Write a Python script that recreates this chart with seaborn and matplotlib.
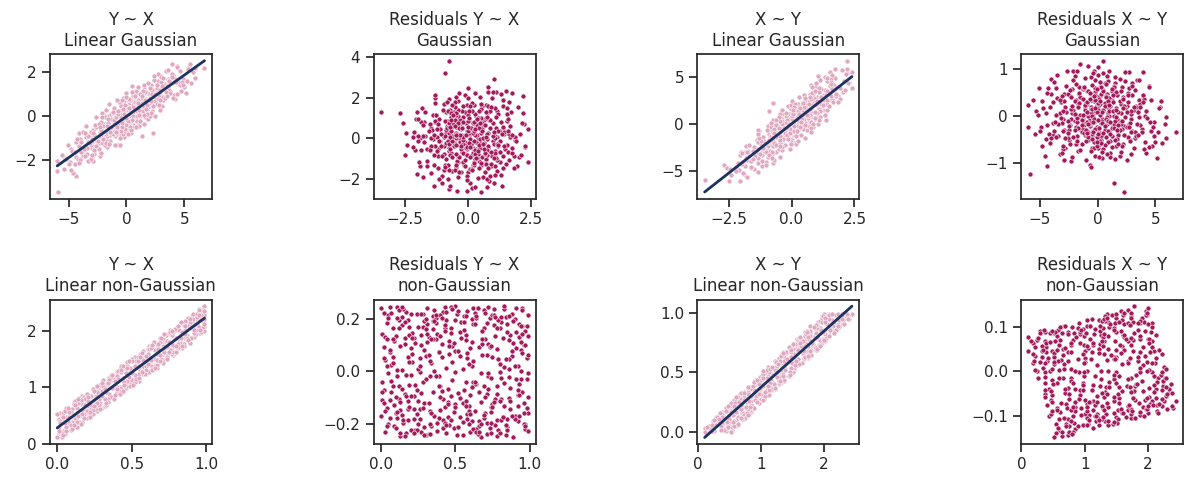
import numpy as np
import matplotlib
matplotlib.use("Agg")
import matplotlib.pyplot as plt
import seaborn as sns

# ---------------- data: linear Gaussian (X, Y) ----------------
gauss_x = [
    1.2, -0.8, 3.1, -2.4, 0.3, -4.1, 2.2, 0.9, -1.5, 4.4,
    -0.2, 1.8, -3.0, 0.6, -1.1, 2.7, -0.5, 3.6, -2.0, 0.0,
    0.4, -1.9, 1.5, -0.1, 2.9, -3.4, 0.8, -0.6, 1.1, -2.7,
    2.0, -0.3, -1.4, 0.2, 3.8, -2.2, 1.0, -4.8, 0.7, -0.9,
    -1.2, 0.5, 2.4, -2.9, 1.6, -0.4, 0.1, -3.7, 2.6, -1.6,
    0.0, 1.3, -0.7, 3.3, -2.5, 0.6, -1.0, 1.9, -0.2, 4.9,
    -1.8, 0.3, 2.1, -0.5, -3.2, 1.4, 0.8, -2.1, 3.0, -0.1,
    1.7, -0.6, -1.3, 0.9, 2.5, -4.4, 0.2, -0.8, 1.1, -2.6,
    -0.4, 3.5, -1.7, 0.5, -0.2, 2.3, -2.3, 1.2, -5.3, 0.7,
    -1.0, 0.1, 2.8, -0.3, 1.5, -3.5, 0.4, -1.4, 4.1, -0.7,
    0.9, -2.0, 1.8, -0.9, 0.0, 2.2, -1.5, 3.2, -0.4, -2.8,
    0.6, -1.1, 1.3, -3.9, 2.7, -0.1, 0.3, -1.9, 1.0, 5.4,
    -0.6, 2.0, -2.4, 0.8, -0.2, 1.6, -3.0, 0.2, 3.9, -1.2,
    1.4, -0.5, 0.5, -1.6, 2.9, -0.8, 0.0, -4.5, 1.9, -0.3,
    -2.2, 0.7, -0.9, 3.4, 0.1, -1.3, 2.4, -0.6, 1.1, -3.3,
    0.4, -1.7, 1.7, -0.1, -2.6, 0.9, 4.6, -0.4, 0.6, -1.0,
    2.6, -0.2, -3.6, 1.2, 0.3, -2.0, 1.5, -0.7, 3.0, 0.0,
    -1.4, 0.8, -0.5, 2.1, -1.1, 0.2, -2.9, 1.3, -0.9, 3.7,
    0.5, -0.3, 1.8, -2.3, 0.1, -0.8, 2.5, -1.8, 0.7, -3.8,
    1.0, -0.6, 0.3, 4.2, -1.5, 0.9, -0.1, -2.5, 2.2, -0.4,
    -1.2, 1.6, 0.0, -0.7, 3.3, -4.0, 0.6, -0.2, 1.4, -1.9,
    2.8, -0.9, 0.4, -2.1, 1.1, -0.3, 5.8, -1.3, 0.2, 2.0,
    -0.5, 0.8, -3.1, 1.9, -0.1, -1.6, 0.5, 3.6, -0.8, 1.2,
    -5.9, 6.75, 2.3, 1.37, 5.15, -6.0, -6.0, 5.6, 5.9, 3.9, -4.36, -4.07, -2.67, 3.1,
    3.4, -4.2, 1.1, -2.6, 5.0, -0.3, 2.3, -3.3, 0.7, -1.8,
    0.2, 4.0, -5.1, 1.9, -0.9, 2.9, -2.0, -3.9, 4.7, -1.3,
    -2.8, 1.5, 3.7, -0.6, -4.6, 2.6, 0.0, -1.6, 5.3, -3.1,
    1.0, -2.3, 4.4, -0.2, 2.1, -5.6, 0.5, 3.0, -1.1, -3.6,
    -0.4, 2.8, -3.0, 0.9, -1.9, 4.2, -4.9, 1.6, -0.7, 3.5,
    -2.5, 0.3, 2.0, -1.4, 5.9, -3.8, 1.3, -0.1, 3.2, -2.1,
    0.6, -4.4, 2.4, -0.8, 3.9, -1.7, -2.9, 1.8, 4.8, -0.5,
    -3.4, 1.2, -0.2, 2.7, -5.2, 0.4, -1.2, 3.3, -2.4, 0.8,
    4.5, -0.9, -2.2, 1.4, -4.0, 2.2, 0.1, -1.5, 3.6, -3.2,
    0.0, 2.5, -1.0, -4.7, 1.7, -0.3, 5.5, -2.7, 0.9, -1.9,
    3.1, -3.5, 0.5, -0.6, 2.0, -2.6, 4.1, -1.3, 1.1, -5.0,
    -0.1, 1.6, -1.8, 3.8, -3.0, 0.7, -0.4, 2.9, -4.3, 1.9,
    -2.0, 4.6, 0.3, -1.1, 2.3, -3.7, 1.0, -0.7, 3.4, -2.4,
    0.8, -0.2, 2.6, -4.1, 1.4, -1.6, 5.2, -2.9, 0.2, -0.8,
    3.0, -1.4, -3.3, 0.6, 2.1, -0.5, 4.3, -2.2, 1.5, 0.0,
    -3.9, 1.2, -0.9, 2.7, -1.8, 0.4, -2.8, 3.7, -0.3, 1.8,
    -5.4, 0.1, 2.2, -1.2, 4.0, -2.5, 0.9, -0.6, 3.2, -4.5,
    1.3, -0.1, -2.1, 2.5, -3.6, 0.5, 1.7, -1.5, 4.9, -0.7,
    -1.0, 3.5, -4.8, 0.2, 2.4, -2.3, 1.1, -0.4, 3.9, -3.1,
    0.7, -1.7, 2.9, -0.8, 1.5, -3.0, 0.0, 4.4, -2.0, 1.0,
]
gauss_y = [
    0.79, -0.81, 1.29, -0.47, -0.04, -1.35, 0.24, 0.41, -0.85, 2.29,
    0.06, 0.33, -1.19, 0.92, -0.22, 0.85, -0.62, 1.68, -0.73, -0.69,
    0.08, -0.37, 1.08, -0.28, 1.02, -1.70, 0.48, 0.61, -0.11, -0.93,
    1.01, -0.24, -1.13, 0.50, 1.15, -0.76, 0.38, -1.48, -0.18, -0.08,
    -0.64, 0.74, 0.88, -1.38, 0.77, -0.12, -0.31, -1.52, 1.47, 0.02,
    0.41, 0.28, -0.33, 1.45, -1.45, -0.08, -0.09, 0.60, 0.68, 1.71,
    -1.10, 0.22, 1.40, -0.87, -0.91, 0.52, 0.15, -0.67, 0.80, 0.19,
    0.57, 0.25, -0.76, -0.22, 1.16, -1.84, 0.69, -0.30, 0.78, -1.44,
    -0.47, 1.41, -0.38, 0.32, -0.93, 0.65, -0.94, 0.98, -1.89, 0.52,
    -0.31, -0.43, 0.90, 0.20, 1.26, -0.94, 0.05, -0.87, 1.54, -0.48,
    0.53, -0.85, 0.28, 0.19, -0.28, 1.22, -0.55, 0.73, -0.05, -0.87,
    -0.39, -0.28, 0.79, -1.88, 1.61, -0.13, 0.58, -0.94, 0.05, 2.22,
    0.11, 0.81, -1.09, 0.28, 0.52, -0.04, -1.45, 0.33, 1.89, -0.59,
    0.35, -0.58, 0.32, -0.14, 1.12, -0.21, 0.21, -2.19, 1.04, -0.67,
    -0.26, 0.67, -0.46, 0.87, -0.21, -0.55, 1.08, -0.17, -0.37, -1.17,
    0.01, -0.89, 1.09, 0.14, -1.08, 1.07, 1.41, -0.17, 0.45, -0.91,
    1.28, 0.43, -1.34, 0.19, -0.31, -0.44, 0.45, -0.44, 1.57, 0.12,
    -0.60, 0.13, 0.46, 0.51, -0.82, 0.09, -0.63, 1.07, -0.26, 1.65,
    0.71, -0.80, 0.75, -0.72, 0.40, -0.65, 0.71, -0.80, 0.20, -1.75,
    0.49, -0.04, -0.39, 1.69, -0.17, 0.23, -0.49, -1.15, 1.18, 0.29,
    -0.82, 0.58, 0.27, -0.41, 1.42, -1.03, 0.01, 0.27, 1.17, -1.30,
    0.55, -0.05, 0.24, -1.23, 0.63, -0.20, 2.01, -0.13, -0.53, 0.58,
    -0.20, 0.77, -1.32, 0.42, 0.04, -0.33, -0.17, 1.32, 0.23, 0.02,
    -3.45, 2.2, -0.75, -0.9, 1.05, -2.03, -2.48, 1.53, 2.2, 2.4, -2.7, -0.75, -0.05, 0.48,
    2.05, -1.96, -0.46, -0.51, 1.33, 0.85, 1.08, -2.04, 0.69, -0.73,
    -0.46, 1.86, -1.33, -0.13, -0.73, 1.19, 0.09, -1.61, 1.13, 0.09,
    -1.73, 1.40, 1.19, -0.07, -2.58, 0.54, 1.04, -0.33, 2.16, -0.74,
    0.75, -1.82, 2.26, -0.36, 0.68, -1.77, -0.51, 1.83, -0.19, -1.79,
    0.76, 0.52, -1.02, 0.01, -0.04, 0.79, -2.08, 1.10, -1.30, 1.39,
    -1.23, 0.73, -0.01, -0.62, 1.74, -0.71, 0.60, -0.67, 0.87, 0.16,
    0.50, -1.16, 1.64, -0.75, 1.92, -1.38, -0.77, 0.49, 1.57, -0.05,
    -1.45, -0.20, 0.36, 1.94, -1.94, -0.75, 0.15, 0.81, -1.49, 1.15,
    1.57, -0.05, -1.69, 1.13, -1.98, 1.19, -0.21, 0.54, 2.11, -1.24,
    -0.38, 0.00, -0.67, -1.60, 0.15, -0.18, 2.39, -0.38, 0.24, -1.32,
    1.36, -0.44, 1.36, -0.97, 1.27, -1.34, 0.98, -0.47, 0.04, -2.19,
    0.53, 0.73, -1.20, 1.08, -1.84, 0.67, -0.29, 0.29, -1.02, 1.50,
    -0.71, 2.07, -0.47, 0.39, 0.45, -1.51, 1.32, 0.10, 1.11, -0.36,
    -0.50, 0.09, 1.42, -2.12, 0.26, -0.12, 1.62, -2.02, 0.79, -0.47,
    1.77, -0.72, -0.91, 0.43, 0.15, -0.68, 1.58, -0.61, -0.36, 0.87,
    -1.17, 1.03, -0.71, 0.78, 0.27, -0.61, -1.53, 1.59, 0.32, 0.09,
    -2.42, -0.83, 0.99, 0.17, 0.81, -1.15, 0.66, -1.32, 1.75, -1.62,
    0.94, -0.60, -0.02, 1.03, -0.77, 1.09, 0.35, -1.28, 1.41, 0.23,
    -1.32, 0.92, -2.44, 0.39, 1.84, -0.47, 0.29, -0.49, 1.77, -1.96,
    0.94, -0.46, 0.74, 0.76, 0.05, -1.76, -0.08, 0.99, -1.06, 0.60,
]

# ---------------- data: linear non-Gaussian (X, Y) ----------------
nongauss_x = [
    0.37, 0.82, 0.05, 0.64, 0.91, 0.23, 0.48, 0.76, 0.12, 0.55,
    0.02, 0.69, 0.33, 0.97, 0.18, 0.44, 0.59, 0.86, 0.27, 0.71,
    0.08, 0.52, 0.95, 0.39, 0.14, 0.78, 0.61, 0.29, 0.87, 0.46,
    0.66, 0.21, 0.03, 0.93, 0.42, 0.74, 0.16, 0.57, 0.31, 0.89,
    0.50, 0.10, 0.80, 0.35, 0.68, 0.99, 0.25, 0.62, 0.07, 0.45,
    0.94, 0.19, 0.73, 0.41, 0.58, 0.01, 0.84, 0.30, 0.66, 0.13,
    0.54, 0.88, 0.26, 0.04, 0.77, 0.36, 0.92, 0.49, 0.17, 0.63,
    0.09, 0.70, 0.43, 0.98, 0.22, 0.60, 0.81, 0.34, 0.11, 0.75,
    0.28, 0.96, 0.51, 0.15, 0.83, 0.40, 0.06, 0.67, 0.32, 0.90,
    0.72, 0.24, 0.56, 0.00, 0.85, 0.47, 0.20, 0.79, 0.38, 0.65,
    0.13, 0.53, 0.95, 0.31, 0.69, 0.08, 0.44, 0.87, 0.26, 0.61,
    0.99, 0.35, 0.18, 0.76, 0.58, 0.03, 0.92, 0.46, 0.71, 0.22,
    0.42, 0.81, 0.11, 0.64, 0.29, 0.97, 0.50, 0.16, 0.74, 0.37,
    0.86, 0.05, 0.57, 0.27, 0.93, 0.40, 0.68, 0.14, 0.83, 0.52,
    0.21, 0.78, 0.33, 0.62, 0.09, 0.89, 0.47, 0.02, 0.70, 0.30,
    0.55, 0.94, 0.19, 0.43, 0.80, 0.12, 0.66, 0.36, 0.98, 0.25,
    0.73, 0.07, 0.48, 0.85, 0.32, 0.59, 0.15, 0.91, 0.40, 0.77,
    0.04, 0.63, 0.28, 0.88, 0.45, 0.10, 0.72, 0.54, 0.20, 0.96,
    0.34, 0.82, 0.17, 0.60, 0.93, 0.39, 0.01, 0.75, 0.50, 0.24,
    0.67, 0.14, 0.86, 0.43, 0.57, 0.99, 0.30, 0.08, 0.79, 0.46,
    0.23, 0.90, 0.62, 0.06, 0.35, 0.71, 0.18, 0.84, 0.52, 0.97,
    0.44, 0.11, 0.77, 0.28, 0.65, 0.02, 0.58, 0.92, 0.38, 0.81,
    0.16, 0.69, 0.49, 0.95, 0.26, 0.83, 0.41, 0.13, 0.74, 0.56,
    0.87, 0.33, 0.04, 0.61, 0.20, 0.78, 0.47, 0.99, 0.10, 0.68,
    0.37, 0.94, 0.53, 0.19, 0.72, 0.29, 0.85, 0.07, 0.63, 0.42,
    0.58, 0.12, 0.89, 0.34, 0.71, 0.03, 0.47, 0.95, 0.26, 0.64,
    0.19, 0.80, 0.41, 0.06, 0.93, 0.55, 0.31, 0.76, 0.15, 0.99,
    0.67, 0.22, 0.50, 0.86, 0.09, 0.38, 0.73, 0.14, 0.61, 0.44,
    0.96, 0.29, 0.01, 0.53, 0.84, 0.20, 0.68, 0.40, 0.91, 0.11,
    0.45, 0.78, 0.24, 0.62, 0.05, 0.87, 0.35, 0.70, 0.17, 0.56,
    0.32, 0.98, 0.08, 0.74, 0.49, 0.27, 0.83, 0.13, 0.59, 0.92,
    0.21, 0.65, 0.39, 0.03, 0.80, 0.52, 0.16, 0.94, 0.43, 0.71,
    0.88, 0.06, 0.57, 0.30, 0.75, 0.12, 0.97, 0.36, 0.66, 0.24,
    0.51, 0.85, 0.18, 0.62, 0.41, 0.00, 0.79, 0.27, 0.93, 0.48,
    0.15, 0.69, 0.35, 0.90, 0.08, 0.58, 0.22, 0.76, 0.45, 0.99,
    0.63, 0.28, 0.86, 0.04, 0.53, 0.74, 0.11, 0.39, 0.95, 0.20,
    0.46, 0.81, 0.33, 0.68, 0.02, 0.90, 0.57, 0.25, 0.72, 0.14,
    0.97, 0.37, 0.60, 0.09, 0.83, 0.43, 0.19, 0.64, 0.31, 0.88,
    0.26, 0.54, 0.78, 0.06, 0.42, 0.94, 0.17, 0.70, 0.50, 0.33,
    0.85, 0.12, 0.61, 0.39, 0.98, 0.23, 0.74, 0.05, 0.55, 0.81,
    0.30, 0.67, 0.16, 0.91, 0.47, 0.02, 0.82, 0.36, 0.64, 0.10,
    0.52, 0.96, 0.27, 0.72, 0.40, 0.86, 0.07, 0.59, 0.21, 0.78,
    0.44, 0.13, 0.89, 0.34, 0.63, 0.99, 0.18, 0.56, 0.80, 0.29,
    0.69, 0.04, 0.48, 0.92, 0.25, 0.75, 0.37, 0.11, 0.60, 0.84,
    0.14, 0.57, 0.32, 0.77, 0.01, 0.43, 0.95, 0.22, 0.66, 0.50,
]
nongauss_y = [
    1.13, 1.72, 0.59, 1.49, 2.16, 0.51, 1.26, 1.95, 0.41, 1.12,
    0.25, 1.87, 0.78, 1.99, 0.69, 1.34, 1.31, 1.98, 0.95, 1.59,
    0.60, 1.09, 2.39, 1.03, 0.39, 1.90, 1.68, 0.73, 1.93, 1.30,
    1.39, 0.73, 0.11, 2.24, 1.33, 1.60, 0.70, 1.36, 1.07, 1.78,
    1.34, 0.38, 1.85, 1.18, 1.77, 2.07, 0.57, 1.74, 0.44, 0.99,
    2.10, 0.82, 1.50, 1.01, 1.47, 0.44, 2.14, 0.63, 1.67, 0.42,
    1.53, 2.07, 0.79, 0.22, 1.69, 1.22, 1.90, 1.09, 0.84, 1.47,
    0.25, 1.78, 1.29, 2.26, 0.62, 1.23, 2.06, 0.98, 0.74, 1.63,
    0.79, 2.05, 1.50, 0.39, 1.93, 0.92, 0.47, 1.35, 1.04, 2.25,
    1.80, 0.97, 1.31, 0.11, 1.74, 1.37, 0.66, 1.88, 0.83, 1.80,
    0.63, 1.22, 2.32, 1.00, 1.46, 0.38, 0.91, 2.13, 0.65, 1.50,
    2.44, 0.89, 0.83, 2.01, 1.26, 0.38, 2.00, 0.98, 1.74, 0.84,
    1.00, 1.85, 0.32, 1.74, 0.93, 1.97, 1.14, 0.72, 1.58, 1.19,
    2.02, 0.18, 1.54, 0.58, 2.06, 1.28, 1.72, 0.56, 1.78, 1.53,
    0.84, 1.57, 0.91, 1.68, 0.33, 2.14, 1.02, 0.54, 1.56, 0.93,
    1.24, 2.21, 0.60, 1.37, 2.02, 0.71, 1.37, 0.82, 2.18, 0.78,
    1.92, 0.34, 1.32, 1.77, 0.67, 1.47, 0.81, 2.22, 1.01, 1.59,
    0.38, 1.37, 1.00, 2.23, 1.05, 0.61, 1.68, 1.53, 0.45, 2.27,
    0.79, 2.02, 0.38, 1.37, 2.29, 1.12, 0.19, 1.97, 1.51, 0.68,
    1.40, 0.76, 1.87, 0.99, 1.52, 2.22, 1.03, 0.49, 1.61, 1.28,
    0.84, 1.88, 1.46, 0.64, 1.16, 1.48, 0.49, 1.98, 1.22, 2.34,
    1.16, 0.48, 1.93, 1.05, 1.32, 0.20, 1.24, 2.11, 1.17, 1.77,
    0.51, 1.80, 1.03, 2.22, 0.61, 2.15, 1.19, 0.29, 1.71, 1.59,
    1.85, 0.97, 0.54, 1.42, 0.76, 1.63, 1.45, 2.00, 0.32, 1.74,
    1.21, 2.13, 1.38, 0.52, 1.63, 0.64, 2.13, 0.38, 1.74, 0.92,
    1.65, 0.46, 2.14, 0.74, 1.86, 0.19, 1.11, 2.07, 0.84, 1.32,
    0.79, 1.62, 1.29, 0.48, 1.94, 1.37, 1.13, 1.66, 0.38, 2.29,
    1.59, 0.53, 1.13, 2.18, 0.57, 0.80, 1.81, 0.73, 1.29, 1.37,
    1.97, 1.04, 0.26, 1.47, 1.69, 0.58, 1.68, 1.20, 2.31, 0.50,
    1.10, 1.98, 0.53, 1.54, 0.58, 1.88, 1.09, 1.50, 0.60, 1.57,
    0.79, 2.38, 0.47, 1.54, 1.35, 1.03, 1.87, 0.30, 1.29, 1.96,
    0.76, 1.80, 0.87, 0.47, 1.88, 1.09, 0.78, 2.24, 1.28, 1.44,
    2.09, 0.29, 1.61, 0.84, 1.62, 0.75, 1.98, 1.18, 1.50, 0.59,
    1.04, 2.10, 0.52, 1.28, 1.14, 0.52, 2.03, 0.91, 2.02, 1.19,
    0.39, 1.58, 1.13, 1.87, 0.56, 1.49, 0.48, 1.99, 1.04, 2.36,
    1.70, 0.69, 1.95, 0.15, 1.15, 1.83, 0.70, 0.99, 2.38, 0.89,
    1.25, 1.69, 0.69, 1.77, 0.41, 2.07, 1.29, 0.94, 1.69, 0.49,
    2.29, 1.22, 1.30, 0.33, 2.16, 0.93, 0.69, 1.31, 1.03, 1.84,
    0.81, 1.47, 1.73, 0.22, 0.89, 2.30, 0.52, 1.88, 1.46, 0.73,
    1.73, 0.68, 1.59, 1.12, 2.07, 0.68, 1.50, 0.37, 1.17, 2.08,
    1.07, 1.48, 0.35, 2.04, 1.35, 0.37, 1.72, 0.99, 1.75, 0.26,
    1.38, 2.01, 0.73, 1.94, 0.97, 2.09, 0.64, 1.24, 0.82, 1.76,
    0.94, 0.39, 2.22, 1.07, 1.48, 2.13, 0.45, 1.54, 1.74, 0.61,
    1.47, 0.48, 1.46, 2.02, 0.66, 1.81, 0.99, 0.34, 1.55, 1.73,
    0.80, 1.27, 0.97, 2.00, 0.22, 1.30, 2.29, 0.57, 1.35, 1.26,
]

titles = [
    "Y ~ X\nLinear Gaussian", "Residuals Y ~ X\nGaussian",
    "X ~ Y\nLinear Gaussian", "Residuals X ~ Y\nGaussian",
    "Y ~ X\nLinear non-Gaussian", "Residuals Y ~ X\nnon-Gaussian",
    "X ~ Y\nLinear non-Gaussian", "Residuals X ~ Y\nnon-Gaussian",
]

PINK = "#dfa8c0"
LINE = "#1c3360"
RESID = "#a21a5b"

sns.set_theme(style="ticks", context="notebook")
plt.rcParams["font.family"] = ["DejaVu Sans"]

fig, axes = plt.subplots(2, 4, figsize=(11.86, 4.79), dpi=100)
fig.subplots_adjust(left=0.042, right=0.9975, bottom=0.073, top=0.887,
                    wspace=0.998, hspace=0.70)

pt_kws = dict(s=13, edgecolor="white", linewidths=0.4, alpha=1.0)

def fit_panel(ax, x, y):
    sns.regplot(x=np.asarray(x), y=np.asarray(y), ax=ax, ci=None,
                scatter_kws=dict(color=PINK, **pt_kws),
                line_kws=dict(color=LINE, lw=2.0), truncate=True)

def resid_panel(ax, x, y):
    sns.residplot(x=np.asarray(x), y=np.asarray(y), ax=ax, color=RESID,
                  scatter_kws=pt_kws)
    for ln in list(ax.lines):
        ln.remove()

datasets = [(gauss_x, gauss_y), (nongauss_x, nongauss_y)]
for row, (dx, dy) in enumerate(datasets):
    fit_panel(axes[row, 0], dx, dy)
    fit_panel(axes[row, 2], dy, dx)
    if row == 0:
        resid_panel(axes[row, 1], dy, dx)
        resid_panel(axes[row, 3], dx, dy)
    else:
        resid_panel(axes[row, 1], dx, dy)
        resid_panel(axes[row, 3], dy, dx)

for ax, t in zip(axes.flat, titles):
    ax.set_title(t, fontsize=12)
    ax.set_xlabel("")
    ax.set_ylabel("")

fig.savefig("out.png", dpi=100)
